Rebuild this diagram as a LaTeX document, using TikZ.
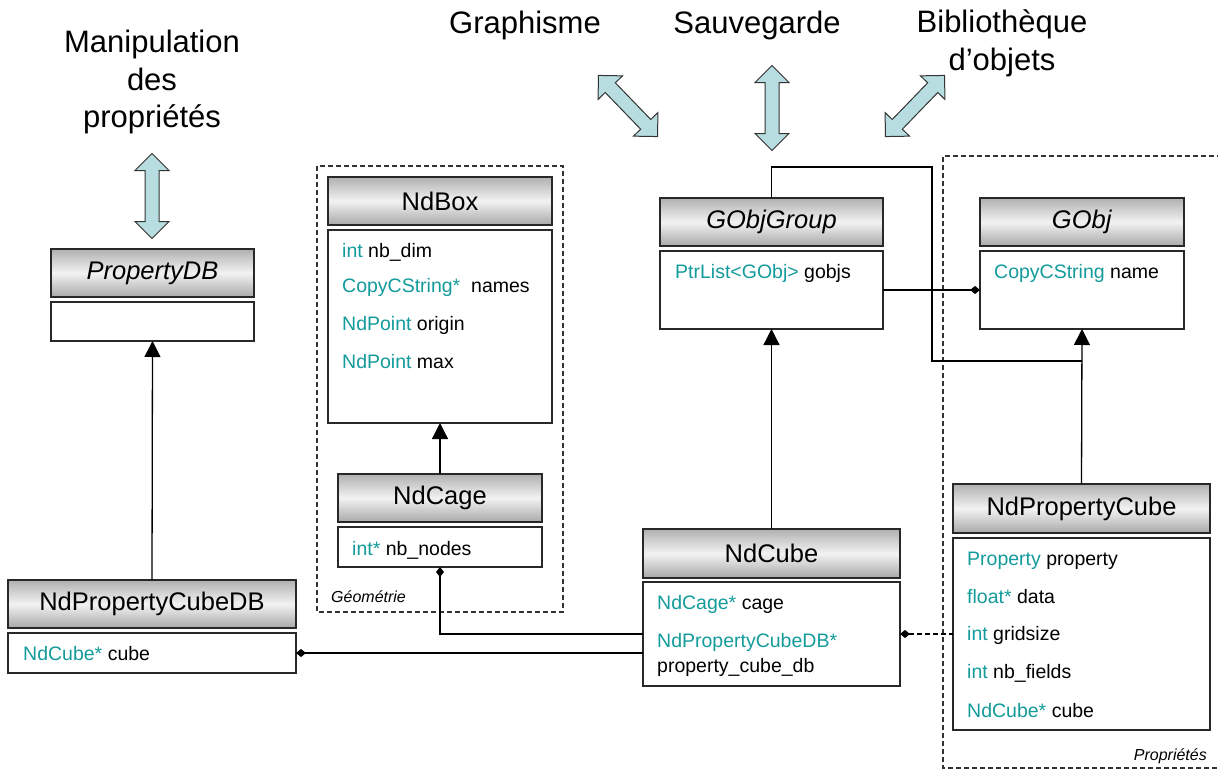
\documentclass[tikz,border=0pt]{standalone}
\usepackage{fontspec}
\setmainfont{Liberation Sans}
\usetikzlibrary{positioning,shapes.arrows,arrows.meta,shadings}

\definecolor{attrteal}{RGB}{20,155,155}
\definecolor{arrowblue}{RGB}{183,221,224}
\definecolor{boxline}{RGB}{40,40,40}
\newcommand{\ty}[1]{\textcolor{attrteal}{#1}}

\begin{document}
\begin{tikzpicture}[
x=1pt, y=-1pt,
node distance=5pt,
title/.style={font=\fontsize{31}{37.5}\selectfont, align=center, inner sep=0pt},
header/.style={rectangle, draw=boxline, line width=1.6pt, top color=gray!62, bottom color=gray!68, middle color=gray!10, font=\fontsize{25.5}{30}\selectfont, inner sep=0pt, outer sep=0pt, anchor=north west},
classbody/.style={rectangle, draw=boxline, line width=1.6pt, fill=white, inner sep=0pt, outer sep=0pt},
attr/.style={anchor=base west, inner sep=0pt, font=\fontsize{19.5}{23}\selectfont},
pkg/.style={line width=1.1pt, draw=black!80, dash pattern=on 5pt off 3pt},
pkglabel/.style={font=\fontsize{16}{19}\selectfont\itshape, inner sep=0pt},
bigarrow/.style={double arrow, draw=black!80, line width=1pt, fill=arrowblue, inner sep=6.5pt, double arrow head extend=10pt, minimum height=85pt},
link/.style={line width=1.3pt},
inherit/.style={link, arrows={-Triangle[length=16pt,width=16pt]}},
owns/.style={link, arrows={Diamond[length=10pt,width=8pt]-}}
]
\useasboundingbox (0,0) rectangle (1218,771);

% --- TOP LABELS ---
\node[title] (manip) at (152,82) {Manipulation\\des\\propriétés};
\node[title] (graph) at (525,25) {Graphisme};
\node[title] (sauve) at (757,25) {Sauvegarde};
\node[title, font=\fontsize{31}{38}\selectfont] (biblio) at (1002,43) {Bibliothèque\\d’objets};

\node[bigarrow, rotate=90] (manip-arr) at (152,196) {};
\node[bigarrow, rotate=-46] (graph-arr) at (628,106) {};
\node[bigarrow, rotate=90] (sauve-arr) at (772,108) {};
\node[bigarrow, rotate=46] (biblio-arr) at (915,106) {};

% --- PACKAGES ---
\draw[pkg] (317,166) rectangle (563,612);
\node[pkglabel, anchor=base west] (geo-label) at (331,602) {Géométrie};
\draw[pkg] (1222,156) -| (943,768) -- (1222,768);
\node[pkglabel, anchor=base east] (prop-label) at (1207,760) {Propriétés};

% --- CLASSES ---
\node[header, minimum width=203pt, minimum height=48pt] (propdb) at (51,249) {\textit{PropertyDB}};
\node[classbody, minimum width=203pt, minimum height=39pt, below=5pt of propdb] (propdb-b) {};

\node[header, minimum width=224pt, minimum height=48pt] (ndbox) at (328,177) {NdBox};
\node[classbody, minimum width=224pt, minimum height=193pt, below=5pt of ndbox] (ndbox-b) {};
\node[attr] (ndbox-a1) at (342,257) {\ty{int} nb\_dim};
\node[attr] (ndbox-a2) at (342,292) {\ty{CopyCString*}\ \ names};
\node[attr] (ndbox-a3) at (342,330) {\ty{NdPoint}\ origin};
\node[attr] (ndbox-a4) at (342,368) {\ty{NdPoint}\ max};

\node[header, minimum width=204pt, minimum height=48pt] (ndcage) at (338,474) {NdCage};
\node[classbody, minimum width=204pt, minimum height=40pt, below=5pt of ndcage] (ndcage-b) {};
\node[attr] (ndcage-a1) at (352,555) {\ty{int*} nb\_nodes};

\node[header, minimum width=223pt, minimum height=48pt] (gobjgroup) at (660,198) {\textit{GObjGroup}};
\node[classbody, minimum width=223pt, minimum height=78pt, below=5pt of gobjgroup] (gobjgroup-b) {};
\node[attr] (gobjgroup-a1) at (675,278) {\ty{PtrList<GObj>} gobjs};

\node[header, minimum width=204pt, minimum height=48pt] (gobj) at (980,198) {\textit{GObj}};
\node[classbody, minimum width=204pt, minimum height=78pt, below=5pt of gobj] (gobj-b) {};
\node[attr] (gobj-a1) at (994,278) {\ty{CopyCString} name};

\node[header, minimum width=288pt, minimum height=48pt] (ndpcdb) at (8,580) {NdPropertyCubeDB};
\node[classbody, minimum width=288pt, minimum height=40pt, below=5pt of ndpcdb] (ndpcdb-b) {};
\node[attr] (ndpcdb-a1) at (23,660) {\ty{NdCube*} cube};

\node[header, minimum width=257pt, minimum height=49pt] (ndcube) at (643,529) {NdCube};
\node[classbody, minimum width=257pt, minimum height=104pt, below=4pt of ndcube] (ndcube-b) {};
\node[attr] (ndcube-a1) at (657,609) {\ty{NdCage*} cage};
\node[attr] (ndcube-a2) at (657,647) {\ty{NdPropertyCubeDB*}};
\node[attr] (ndcube-a3) at (657,672) {property\_cube\_db};

\node[header, minimum width=257pt, minimum height=49pt] (ndpc) at (953,484) {NdPropertyCube};
\node[classbody, minimum width=257pt, minimum height=192pt, below=5pt of ndpc] (ndpc-b) {};
\node[attr] (ndpc-a1) at (967,565) {\ty{Property} property};
\node[attr] (ndpc-a2) at (967,603) {\ty{float*} data};
\node[attr] (ndpc-a3) at (967,640) {\ty{int} gridsize};
\node[attr] (ndpc-a4) at (967,678) {\ty{int} nb\_fields};
\node[attr] (ndpc-a5) at (967,717) {\ty{NdCube*} cube};

% --- LINKS ---
\coordinate (grp-top) at (772,167);
\coordinate (grp-turn) at (932,361);
\draw[link] (gobjgroup.north) -- (gobjgroup.north |- grp-top) -| (grp-turn) -- (grp-turn -| gobj-b.south);

\draw[inherit] (ndpcdb.north) -- (propdb-b.south);
\draw[inherit] (ndcage.north) -- (ndbox-b.south);
\draw[inherit] (ndcube.north) -- (gobjgroup-b.south);
\draw[inherit] (ndpc.north) -- (gobj-b.south);

\draw[owns] (gobj-b.west) -- (gobjgroup-b.east);
\draw[owns] (ndcage-b.south) |- (ndcube-b.west);
\draw[owns] (ndpcdb-b.east) -- (ndpcdb-b.east -| ndcube-b.west);
\draw[owns, dash pattern=on 5pt off 3pt] (ndcube-b.east) -- (ndcube-b.east -| ndpc-b.west);

\end{tikzpicture}
\end{document}
